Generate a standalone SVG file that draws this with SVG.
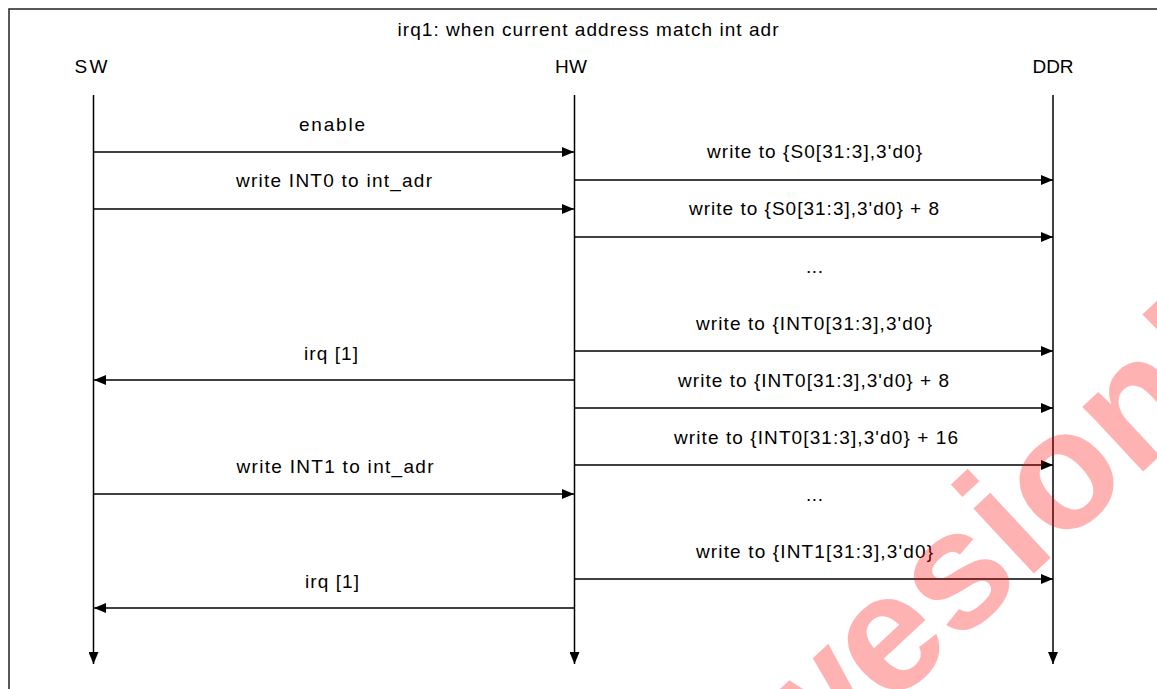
<svg xmlns="http://www.w3.org/2000/svg" width="1157" height="689" viewBox="0 0 1157 689">
  <style>
    .t { font-family: "Liberation Sans", Arial, sans-serif; font-size: 19px; fill: #000; text-anchor: middle; }
    .life { stroke: #000; stroke-width: 1.5; fill: none; }
    .msg { stroke: #000; stroke-width: 1.5; fill: none; }
    .frame { stroke: #222; stroke-width: 1.5; fill: #fff; }
    .wm { font-family: "Liberation Sans", Arial, sans-serif; font-weight: bold; font-size: 168px; fill: #ff0000; fill-opacity: 0.3; }
  </style>
  <defs>
    <marker id="ah" markerUnits="userSpaceOnUse" markerWidth="12" markerHeight="10" refX="12" refY="5" orient="auto">
      <path d="M0,0 L12,5 L0,10 z" fill="#000"/>
    </marker>
  </defs>
  <rect width="1157" height="689" fill="#fff"/>
  <rect class="frame" x="9" y="9" width="1170" height="700"/>
  <text class="t" x="588" y="36" textLength="381" lengthAdjust="spacing">irq1: when current address match int adr</text>

  <g id="sw">
    <text class="t" x="91" y="73" textLength="33" lengthAdjust="spacing">SW</text>
    <line class="life" x1="93.5" y1="95" x2="93.5" y2="664" marker-end="url(#ah)"/>
  </g>
  <g id="hw">
    <text class="t" x="571" y="73" textLength="32" lengthAdjust="spacing">HW</text>
    <line class="life" x1="574.5" y1="95" x2="574.5" y2="664" marker-end="url(#ah)"/>
  </g>
  <g id="ddr">
    <text class="t" x="1053" y="73" textLength="41" lengthAdjust="spacing">DDR</text>
    <line class="life" x1="1053" y1="95" x2="1053" y2="664" marker-end="url(#ah)"/>
  </g>

  <g id="connectors">
    <line class="msg" x1="94" y1="152" x2="574" y2="152" marker-end="url(#ah)"/>
    <line class="msg" x1="94" y1="209" x2="574" y2="209" marker-end="url(#ah)"/>
    <line class="msg" x1="574" y1="380" x2="94" y2="380" marker-end="url(#ah)"/>
    <line class="msg" x1="94" y1="494" x2="574" y2="494" marker-end="url(#ah)"/>
    <line class="msg" x1="574" y1="608" x2="94" y2="608" marker-end="url(#ah)"/>

    <line class="msg" x1="575" y1="180" x2="1053" y2="180" marker-end="url(#ah)"/>
    <line class="msg" x1="575" y1="237" x2="1053" y2="237" marker-end="url(#ah)"/>
    <line class="msg" x1="575" y1="351" x2="1053" y2="351" marker-end="url(#ah)"/>
    <line class="msg" x1="575" y1="408" x2="1053" y2="408" marker-end="url(#ah)"/>
    <line class="msg" x1="575" y1="465" x2="1053" y2="465" marker-end="url(#ah)"/>
    <line class="msg" x1="575" y1="579" x2="1053" y2="579" marker-end="url(#ah)"/>

    <text class="t" x="332" y="131" textLength="66" lengthAdjust="spacing">enable</text>
    <text class="t" x="334" y="187" textLength="196" lengthAdjust="spacing">write INT0 to int_adr</text>
    <text class="t" x="331" y="360" textLength="54" lengthAdjust="spacing">irq [1]</text>
    <text class="t" x="335" y="473" textLength="197" lengthAdjust="spacing">write INT1 to int_adr</text>
    <text class="t" x="332" y="588" textLength="54" lengthAdjust="spacing">irq [1]</text>

    <text class="t" x="814.5" y="158" textLength="215" lengthAdjust="spacing">write to {S0[31:3],3'd0}</text>
    <text class="t" x="814" y="215" textLength="250" lengthAdjust="spacing">write to {S0[31:3],3'd0} + 8</text>
    <text class="t" x="814.5" y="273" textLength="17" lengthAdjust="spacing">...</text>
    <text class="t" x="814" y="330" textLength="236" lengthAdjust="spacing">write to {INT0[31:3],3'd0}</text>
    <text class="t" x="813.5" y="387" textLength="271" lengthAdjust="spacing">write to {INT0[31:3],3'd0} + 8</text>
    <text class="t" x="816" y="444" textLength="284" lengthAdjust="spacing">write to {INT0[31:3],3'd0} + 16</text>
    <text class="t" x="814.5" y="501" textLength="17" lengthAdjust="spacing">...</text>
    <text class="t" x="814.5" y="558" textLength="237" lengthAdjust="spacing">write to {INT1[31:3],3'd0}</text>
  </g>

  <text class="wm" x="0" y="0" transform="translate(793 798) rotate(-43)">wesion!</text>
</svg>
